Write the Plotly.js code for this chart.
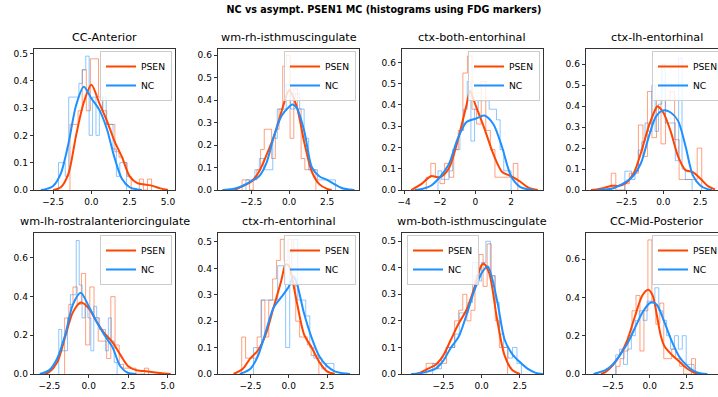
<!DOCTYPE html>
<html><head><meta charset="utf-8">
<script src="https://cdn.plot.ly/plotly-3.0.1.min.js"></script>
<style>html,body{margin:0;padding:0;overflow:hidden;background:#fff}</style>
</head><body><div id="chart"></div>
<script>
// ---------------- data ----------------
const suptitle = "NC vs asympt. PSEN1 MC (histograms using FDG markers)";
const panelTitles = ["CC-Anterior","wm-rh-isthmuscingulate","ctx-both-entorhinal","ctx-lh-entorhinal",
  "wm-lh-rostralanteriorcingulate","ctx-rh-entorhinal","wm-both-isthmuscingulate","CC-Mid-Posterior"];
const seriesNames = ["PSEN","NC"];

// histogram bin range [first edge, last edge] and 20 density heights
const psenRanges = [[-1.40,3.93],[-3.10,1.76],[-2.76,2.38],[-3.52,2.60],[-1.53,3.80],[-3.07,1.97],[-3.62,1.69],[-2.27,3.10]];
const psenHeights = [
  [0.24,0.24,0.29,0.44,0.29,0.48,0.48,0.34,0.29,0.24,0.24,0.14,0.12,0.10,0.05,0,0,0.04,0,0.04],
  [0.045,0.045,0,0.045,0.09,0.18,0.27,0.27,0.14,0.27,0.36,0.55,0.60,0.23,0.45,0.36,0.14,0.09,0.09,0.09],
  [0.06,0.125,0.06,0.03,0.125,0.06,0.19,0.28,0.55,0.63,0.38,0.31,0.51,0.28,0.19,0.06,0.06,0.06,0.06,0.125],
  [0.08,0,0,0.03,0.08,0.08,0.31,0.16,0.47,0.25,0.43,0.22,0.43,0.47,0.24,0.05,0.05,0.05,0.05,0.20],
  [0.29,0.36,0.45,0.36,0.52,0.15,0.45,0.29,0.17,0.17,0.08,0.40,0.15,0.05,0.03,0.03,0.03,0,0,0.03],
  [0.14,0.06,0.06,0.06,0.14,0.28,0.14,0.28,0.36,0.43,0.51,0.43,0.51,0.36,0.20,0.14,0.14,0.11,0.07,0.07],
  [0.04,0.04,0.02,0.04,0.04,0.10,0.10,0.20,0.24,0.30,0.20,0.24,0.37,0.45,0.33,0.49,0.37,0.20,0.10,0.10],
  [0.04,0.08,0.12,0.20,0.33,0.41,0.12,0.33,0.70,0.37,0.26,0.37,0.08,0.08,0.13,0.08,0.04,0,0,0.08]
];
const ncRanges = [[-2.15,2.30],[-2.85,3.05],[-2.10,2.00],[-2.60,1.95],[-1.90,1.80],[-2.30,2.95],[-3.20,2.60],[-2.30,3.00]];
const ncHeights = [
  [0.10,0.10,0.05,0.34,0.34,0.34,0.39,0.44,0.49,0.20,0.34,0.20,0.29,0.34,0.24,0.24,0.15,0.05,0.10,0.10],
  [0.045,0.045,0.09,0.14,0.09,0.09,0.23,0.36,0.36,0.47,0.36,0.43,0.36,0.23,0.09,0.09,0.045,0.045,0.045,0.045],
  [0.09,0.05,0.05,0.09,0.19,0.19,0.28,0.38,0.51,0.23,0.38,0.42,0.42,0.42,0.38,0.38,0.33,0.19,0.09,0.09],
  [0.09,0.09,0.05,0.09,0.19,0.23,0.32,0.28,0.50,0.28,0.41,0.60,0.32,0.32,0.32,0.14,0.63,0.10,0.05,0.05],
  [0.23,0.12,0.12,0.29,0.41,0.41,0.69,0.46,0.29,0.35,0.29,0.12,0.35,0.29,0.23,0.23,0.12,0.29,0.17,0.06],
  [0.10,0.10,0.28,0.28,0.28,0.28,0.41,0.41,0.10,0.46,0.51,0.28,0.28,0.22,0.10,0.06,0.06,0.02,0.04,0.04],
  [0.04,0.02,0.06,0.10,0.10,0.15,0.23,0.23,0.27,0.42,0.35,0.42,0.50,0.37,0.27,0.15,0.10,0.06,0.10,0.04],
  [0.10,0.13,0.05,0.13,0.20,0.28,0.33,0.28,0.38,0.38,0.45,0.33,0.28,0.20,0.13,0.20,0.13,0.20,0.05,0.05]
];

// KDE curves
const psenKdeX = [
  [-2.5,-2,-1.5,-1,-0.5,0,0.5,1,1.5,2,2.5,3,3.5,4,4.5,5],
  [-3.6,-3,-2.5,-2,-1.5,-1,-0.5,0,0.5,1,1.5,2,2.5,2.8],
  [-3.6,-3,-2.5,-2,-1.5,-1,-0.5,-0.3,0,0.5,1,1.5,2,2.5,3,3.5],
  [-4.9,-4.5,-4,-3.5,-3,-2.5,-2,-1.5,-1,-0.5,-0.4,0,0.5,1,1.5,2,2.5,3,3.5],
  [-2.8,-2.5,-2,-1.5,-1,-0.5,0,0.5,1,1.5,2,2.5,3,3.5,4,4.5,5,5.2],
  [-3.6,-3,-2.5,-2,-1.5,-1,-0.5,-0.2,0,0.5,1,1.5,2,2.5,3],
  [-4.3,-4,-3.5,-3,-2.5,-2,-1.5,-1,-0.5,0,0.15,0.5,1,1.5,2,2.5],
  [-3.3,-3,-2.5,-2,-1.5,-1,-0.5,-0.1,0.2,0.5,0.75,1,1.5,2,2.5,3,3.4]
];
const psenKdeY = [
  [0,0.01,0.06,0.20,0.32,0.385,0.32,0.255,0.18,0.12,0.05,0.025,0.02,0.015,0.006,0],
  [0,0.02,0.037,0.08,0.155,0.24,0.35,0.444,0.37,0.21,0.08,0.025,0.005,0],
  [0,0.03,0.065,0.06,0.10,0.23,0.40,0.465,0.40,0.29,0.17,0.085,0.065,0.04,0.01,0],
  [0,0.003,0.01,0.02,0.02,0.035,0.08,0.18,0.30,0.39,0.40,0.37,0.28,0.16,0.095,0.085,0.055,0.02,0.003],
  [0,0.01,0.06,0.19,0.32,0.37,0.34,0.27,0.21,0.165,0.10,0.04,0.02,0.015,0.01,0.005,0.001,0],
  [0,0.02,0.06,0.09,0.15,0.25,0.35,0.415,0.41,0.28,0.15,0.10,0.045,0.01,0],
  [0,0.005,0.02,0.035,0.07,0.13,0.19,0.24,0.32,0.41,0.415,0.38,0.21,0.07,0.015,0],
  [0,0.01,0.045,0.10,0.18,0.30,0.41,0.44,0.41,0.30,0.20,0.145,0.10,0.065,0.03,0.008,0]
];
const ncKdeX = [
  [-3.3,-3,-2.5,-2,-1.5,-1,-0.5,0,0.5,1,1.5,2,2.5,3,3.3],
  [-4.4,-4,-3.5,-3,-2.5,-2,-1.5,-1,-0.5,0,0.2,0.5,1,1.5,2,2.5,3,3.5,4,4.3],
  [-3.4,-3,-2.5,-2,-1.5,-1,-0.5,0,0.5,1,1.5,2,2.5,3,3.3],
  [-4.5,-4,-3.5,-3,-2.5,-2,-1.5,-1,-0.5,0,0.5,1,1.5,2,2.5,3,3.3],
  [-3.1,-2.5,-2,-1.5,-1,-0.5,0,0.5,1,1.5,2,2.5,3],
  [-3.2,-2.5,-2,-1.5,-1,-0.5,0,0.3,0.5,1,1.5,2,2.5,3,3.5,4],
  [-4.6,-4,-3.5,-3,-2.5,-2,-1.5,-1,-0.5,0,0.4,1,1.5,2,2.5,3,3.5,4],
  [-3.8,-3,-2.5,-2,-1.5,-1,-0.5,0,0.2,0.5,1,1.5,2,2.5,3,3.5,3.9]
];
const ncKdeY = [
  [0,0.003,0.015,0.06,0.17,0.31,0.378,0.335,0.295,0.225,0.12,0.04,0.01,0.002,0],
  [0,0.002,0.008,0.02,0.04,0.06,0.12,0.24,0.33,0.37,0.38,0.365,0.26,0.10,0.06,0.045,0.025,0.008,0.002,0],
  [0,0.005,0.02,0.06,0.12,0.24,0.32,0.335,0.35,0.31,0.20,0.065,0.015,0.002,0],
  [0,0.002,0.006,0.02,0.04,0.07,0.13,0.25,0.35,0.38,0.37,0.33,0.21,0.07,0.022,0.004,0],
  [0,0.02,0.08,0.20,0.36,0.42,0.35,0.27,0.20,0.14,0.04,0.005,0],
  [0,0.02,0.07,0.16,0.25,0.29,0.33,0.37,0.35,0.23,0.137,0.067,0.03,0.01,0.003,0],
  [0,0.003,0.01,0.02,0.05,0.10,0.14,0.22,0.31,0.38,0.405,0.28,0.13,0.075,0.045,0.02,0.005,0],
  [0,0.02,0.05,0.10,0.16,0.24,0.32,0.37,0.375,0.36,0.27,0.17,0.09,0.045,0.015,0.003,0]
];

// axes
const xRanges = [[-3.75,5.46],[-4.69,4.60],[-4.12,3.79],[-5.23,4.31],[-3.47,5.47],[-4.62,4.59],[-5.20,4.01],[-4.31,5.23]];
const yRanges = [[0,0.516],[0,0.627],[0,0.663],[0,0.673],[0,0.729],[0,0.534],[0,0.531],[0,0.736]];
const xTickVals = [[-2.5,0,2.5,5],[-2.5,0,2.5],[-4,-2,0,2],[-2.5,0,2.5],[-2.5,0,2.5,5],[-2.5,0,2.5],[-2.5,0,2.5],[-2.5,0,2.5]];
const xTickFormats = [".1f",".1f","d",".1f",".1f",".1f",".1f",".1f"];
const yTickVals = [[0,0.1,0.2,0.3,0.4,0.5],[0,0.1,0.2,0.3,0.4,0.5,0.6],[0,0.1,0.2,0.3,0.4,0.5,0.6],[0,0.1,0.2,0.3,0.4,0.5,0.6],
  [0,0.2,0.4,0.6],[0,0.1,0.2,0.3,0.4,0.5],[0,0.1,0.2,0.3,0.4,0.5],[0,0.2,0.4,0.6]];
const legendSide = ["right","right","right","right","right","right","left","right"];

// ---------------- layout geometry ----------------
const W = 770, H = 420;
const colLeft = [34, 218, 402, 586], rowTop = [49, 233], AW = 141, AH = 141;
const PSEN_COLOR = "#FF4500", NC_COLOR = "#1E90FF";
const FONT = "DejaVu Sans, Verdana, sans-serif";

function stepXY(range, h) {
  const n = h.length, lo = range[0], hi = range[1], w = (hi - lo) / n;
  const x = [lo], y = [0];
  for (let k = 0; k < n; k++) { x.push(lo + k * w); y.push(h[k]); }
  x.push(hi); y.push(h[n - 1]);
  x.push(hi); y.push(0);
  return {x, y};
}

const traces = [];
const layout = {
  width: W, height: H,
  margin: {l: 0, r: 0, t: 0, b: 0, autoexpand: false},
  paper_bgcolor: "#fff", plot_bgcolor: "#fff",
  font: {family: FONT, color: "#000"},
  title: {text: suptitle, font: {family: FONT, size: 9.6, weight: "bold", color: "#000"},
          x: 384 / W, xanchor: "center", y: 1 - 9.5 / H, yanchor: "middle", xref: "paper", yref: "paper"},
  annotations: [],
  showlegend: true
};

for (let i = 0; i < 8; i++) {
  const r = Math.floor(i / 4), c = i % 4, n = i + 1;
  const xa = "x" + (n === 1 ? "" : n), ya = "y" + (n === 1 ? "" : n);
  const lg = "legend" + (n === 1 ? "" : n);
  const x0 = colLeft[c], y0 = rowTop[r];

  const hp = stepXY(psenRanges[i], psenHeights[i]);
  const hn = stepXY(ncRanges[i], ncHeights[i]);
  traces.push({type: "scatter", mode: "lines", x: hp.x, y: hp.y, xaxis: xa, yaxis: ya,
    line: {color: "rgba(255,69,0,0.5)", width: 1, shape: "hv"}, showlegend: false, hoverinfo: "skip"});
  traces.push({type: "scatter", mode: "lines", x: hn.x, y: hn.y, xaxis: xa, yaxis: ya,
    line: {color: "rgba(30,144,255,0.5)", width: 1, shape: "hv"}, showlegend: false, hoverinfo: "skip"});
  traces.push({type: "scatter", mode: "lines", name: seriesNames[0], x: psenKdeX[i], y: psenKdeY[i], xaxis: xa, yaxis: ya,
    line: {color: PSEN_COLOR, width: 2, shape: "spline", smoothing: 0.8}, legend: lg, showlegend: true});
  traces.push({type: "scatter", mode: "lines", name: seriesNames[1], x: ncKdeX[i], y: ncKdeY[i], xaxis: xa, yaxis: ya,
    line: {color: NC_COLOR, width: 2, shape: "spline", smoothing: 0.8}, legend: lg, showlegend: true});

  const axCommon = {showline: true, linecolor: "#000", linewidth: 0.8, mirror: true, ticks: "outside",
    ticklen: 3.5, tickwidth: 0.8, tickcolor: "#000", showgrid: false, zeroline: false,
    tickfont: {family: FONT, size: 9, color: "#000"}, fixedrange: true};
  layout["xaxis" + (n === 1 ? "" : n)] = Object.assign({}, axCommon, {
    domain: [x0 / W, (x0 + AW) / W], anchor: ya, range: xRanges[i],
    tickmode: "array", tickvals: xTickVals[i], tickformat: xTickFormats[i]});
  layout["yaxis" + (n === 1 ? "" : n)] = Object.assign({}, axCommon, {
    domain: [1 - (y0 + AH) / H, 1 - y0 / H], anchor: xa, range: yRanges[i],
    tickmode: "array", tickvals: yTickVals[i], tickformat: ".1f"});

  layout.annotations.push({text: panelTitles[i], xref: xa + " domain", yref: ya + " domain", x: 0.5, y: 1,
    xanchor: "center", yanchor: "bottom", yshift: 3, showarrow: false, font: {family: FONT, size: 11.2, color: "#000"}});

  const leg = {bgcolor: "rgba(255,255,255,0.8)", bordercolor: "#cccccc", borderwidth: 1,
    font: {family: FONT, size: 9.2, color: "#000"}, itemwidth: 30, tracegroupgap: 0, traceorder: "normal",
    yanchor: "top", y: 1 - (y0 + 2) / H};
  if (legendSide[i] === "right") { leg.xanchor = "right"; leg.x = (x0 + AW - 3) / W; }
  else { leg.xanchor = "left"; leg.x = (x0 + 5) / W; }
  layout[lg] = leg;
}

Plotly.newPlot("chart", traces, layout, {displayModeBar: false, staticPlot: true});
</script></body></html>
